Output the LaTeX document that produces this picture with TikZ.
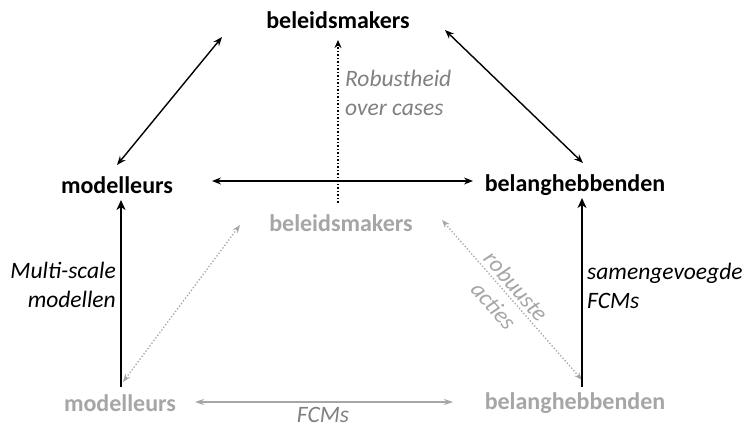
\documentclass[tikz,border=0pt]{standalone}
\usepackage{fontspec}
\setmainfont{Carlito}
\usetikzlibrary{arrows.meta}
\definecolor{lightg}{HTML}{A6A6A6}
\definecolor{midg}{HTML}{808080}
\begin{document}
\begin{tikzpicture}[x=1pt,y=1pt,
  actor/.style={font=\fontsize{24}{28}\selectfont\bfseries, inner sep=0pt},
  ghost/.style={actor, text=lightg},
  lbl/.style={font=\fontsize{23.5}{29.5}\selectfont\itshape, inner sep=0pt},
  link/.style={line width=1.4pt, {Stealth[length=9pt,width=7pt]}-{Stealth[length=9pt,width=7pt]}},
  flow/.style={line width=2.4pt, -{Stealth[length=10pt,width=9pt,inset=3pt]}},
  glink/.style={line width=1.2pt, draw=lightg, {Stealth[length=9pt,width=6pt]}-{Stealth[length=9pt,width=6pt]}},
  gdot/.style={line width=1.3pt, draw=lightg, dotted, {Stealth[length=8pt,width=6pt]}-{Stealth[length=8pt,width=6pt]}},
  bdot/.style={line width=1.5pt, dotted, -{Stealth[length=8pt,width=7pt]}}]
\useasboundingbox (0,0) rectangle (749,426);

% upper layer
\node[actor] (bm)  at (338,406) {beleidsmakers};
\node[actor] (mod) at (117,241) {modelleurs};
\node[actor] (bel) at (575,241) {belanghebbenden};

% lower layer
\node[ghost] (gbm)  at (341,203) {beleidsmakers};
\node[ghost] (gmod) at (120,23) {modelleurs};
\node[ghost] (gbel) at (575,23) {belanghebbenden};

% upper triangle
\draw[link] ([shift={(-116,-17)}]bm.center) -- ([shift={(0,20)}]mod.center);
\draw[link] ([shift={(107,-10)}]bm.center) -- ([shift={(8,22)}]bel.center);
\draw[link] ([shift={(95,4)}]mod.center) -- ([shift={(-102,4)}]bel.center);

% lower triangle
\draw[glink] ([shift={(75,1)}]gmod.center) -- ([shift={(-122,1)}]gbel.center);
\draw[gdot] ([shift={(3,21)}]gmod.center) -- ([shift={(-101,-2)}]gbm.center);
\draw[gdot] ([shift={(101,3)}]gbm.center) -- ([shift={(7,23)}]gbel.center);

% between the layers
\draw[bdot] ([shift={(-3,20)}]gbm.center) -- ([shift={(0,-20)}]bm.center);
\draw[flow] ([shift={(1,16)}]gmod.center) -- ([shift={(4,-15)}]mod.center);
\draw[flow] ([shift={(7,16)}]gbel.center) -- ([shift={(7,-13)}]bel.center);

% labels
\node[lbl, text=midg, anchor=west, align=left] (lrob) at (345,333) {Robustheid\\over cases};
\node[lbl, anchor=east, align=right] (lmulti) at (116,141) {Multi-scale\\modellen};
\node[lbl, anchor=west, align=left] (lsam) at (587,140) {samengevoegde\\FCMs};
\node[lbl, text=midg] (lfcm) at (323,11) {FCMs};
\node[lbl, text=lightg, rotate=-49, align=center] (lact) at (505,130) {robuuste\\acties};
\end{tikzpicture}
\end{document}
